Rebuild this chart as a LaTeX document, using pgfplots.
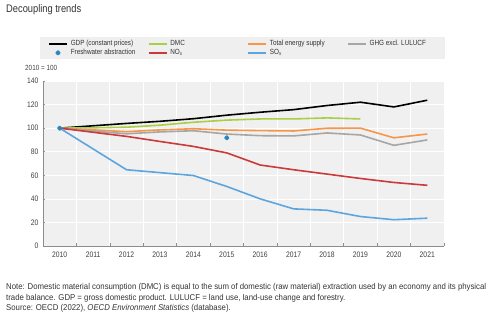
\documentclass[border=0pt]{standalone}
\usepackage{fontspec}
\setmainfont{Liberation Sans}[FakeStretch=0.85]
\newfontfamily\notefont{Liberation Sans}[FakeStretch=0.92]
\usepackage{pgfplots}
\pgfplotsset{compat=1.18}
\definecolor{plotgray}{HTML}{F0F0F0}
\definecolor{leggray}{HTML}{EFEFEF}
\definecolor{axgray}{HTML}{8C8C8C}
\definecolor{cdmc}{HTML}{A8CF45}
\definecolor{ctes}{HTML}{F5964B}
\definecolor{cghg}{HTML}{A6A6A6}
\definecolor{cnox}{HTML}{CB3A3A}
\definecolor{csox}{HTML}{5DA5DE}
\definecolor{cfw}{HTML}{2E86C1}
\begin{document}
\begin{tikzpicture}
\path[use as bounding box] (0,0) rectangle (498bp,328bp);
\begin{axis}[
  at={(43bp,82bp)}, anchor=south west,
  scale only axis, width=401bp, height=165bp,
  xmin=2009.5, xmax=2021.5, ymin=0, ymax=140,
  axis background/.style={fill=plotgray},
  axis x line*=bottom, axis y line*=left,
  axis line style={axgray, line width=0.8bp},
  xtick={2010,...,2021},
  xticklabel style={/pgf/number format/1000 sep={}},
  minor xtick={2009.5,2010.5,...,2021.5},
  major x tick style={draw=none},
  minor x tick style={axgray, line width=0.6bp},
  minor tick length=3bp,
  minor x grid style={white, line width=0.7bp},
  xminorgrids=true,
  ytick={0,20,...,140},
  ymajorgrids=true,
  major y grid style={white, line width=0.7bp},
  major y tick style={axgray, line width=0.6bp},
  major tick length=2bp,
  tick align=inside,
  tick label style={font=\fontsize{8}{9}\selectfont, text=black!75},
  /pgf/number format/assume math mode=true,
  xticklabel style={yshift=-2bp},
  yticklabel style={xshift=-1bp},
  legend columns=4,
  legend cell align=left,
  legend style={at={(axis description cs:-0.0075,1.265)}, anchor=north west,
    fill=leggray, draw=none, inner xsep=8bp, inner ysep=2bp,
    font=\fontsize{7.5}{8}\selectfont, text=black!80,
    nodes={inner sep=1bp},
    /tikz/every odd column/.append style={column sep=2bp},
    /tikz/every even column/.append style={column sep=2bp}},
  legend image code/.code={\draw[mark repeat=2, mark phase=2, #1] plot coordinates {(0bp,0bp) (9bp,0bp) (18bp,0bp)};},
  every axis plot/.append style={line width=1.6bp, line join=round},
]
\addplot[black, mark=none] coordinates {(2010,100)(2011,102)(2012,104)(2013,105.8)(2014,108)(2015,111)(2016,113.5)(2017,115.7)(2018,119.2)(2019,122)(2020,118)(2021,123.7)};
\addlegendentry{\makebox[74bp][l]{GDP (constant prices)}}
\addplot[cdmc, mark=none] coordinates {(2010,100)(2011,100.3)(2012,100.8)(2013,102.5)(2014,105)(2015,106.8)(2016,107.8)(2017,107.8)(2018,108.7)(2019,107.8)};
\addlegendentry{\makebox[74bp][l]{DMC}}
\addplot[ctes, mark=none] coordinates {(2010,100)(2011,98.5)(2012,97)(2013,98.5)(2014,99.5)(2015,98.3)(2016,97.9)(2017,97.6)(2018,99.9)(2019,100)(2020,91.8)(2021,95)};
\addlegendentry{\makebox[74bp][l]{Total energy supply}}
\addplot[cghg, mark=none] coordinates {(2010,100)(2011,97.5)(2012,95.2)(2013,96.8)(2014,97.8)(2015,95)(2016,93.6)(2017,93.4)(2018,95.9)(2019,94.2)(2020,85.4)(2021,90)};
\addlegendentry{\makebox[66bp][l]{GHG excl. LULUCF}}
\addplot[only marks, mark=*, mark size=1.8bp, cfw, mark options={draw=cfw, fill=cfw}] coordinates {(2010,100)(2015,91.8)};
\addlegendentry{\makebox[74bp][l]{Freshwater abstraction}}
\addplot[cnox, mark=none] coordinates {(2010,100)(2011,96.5)(2012,93)(2013,88.7)(2014,84.5)(2015,79)(2016,68.7)(2017,64.7)(2018,61)(2019,57.3)(2020,53.9)(2021,51.5)};
\addlegendentry{\makebox[74bp][l]{NO\textsubscript{x}}}
\addplot[csox, mark=none] coordinates {(2010,100)(2012,64.7)(2014,59.8)(2015,50.5)(2016,40)(2017,31.5)(2018,30.3)(2019,25)(2020,22.3)(2021,23.6)};
\addlegendentry{\makebox[74bp][l]{SO\textsubscript{x}}}
\end{axis}
\node[anchor=west, inner sep=0, font=\fontsize{11}{13}\selectfont, text=black!80] at (6bp,318bp) {Decoupling trends};
\node[anchor=west, inner sep=0, font=\fontsize{7.5}{9}\selectfont, text=black!75] at (25bp,260bp) {2010 = 100};
\node[anchor=north west, inner sep=0, align=left, font=\notefont\fontsize{8.5}{10.5}\selectfont, text=black!80] at (6bp,44.5bp) {Note: Domestic material consumption (DMC) is equal to the sum of domestic (raw material) extraction used by an economy and its physical\\trade balance. GDP = gross domestic product. LULUCF = land use, land-use change and forestry.\\Source: OECD (2022), \textit{OECD Environment Statistics} (database).};
\end{tikzpicture}
\end{document}
